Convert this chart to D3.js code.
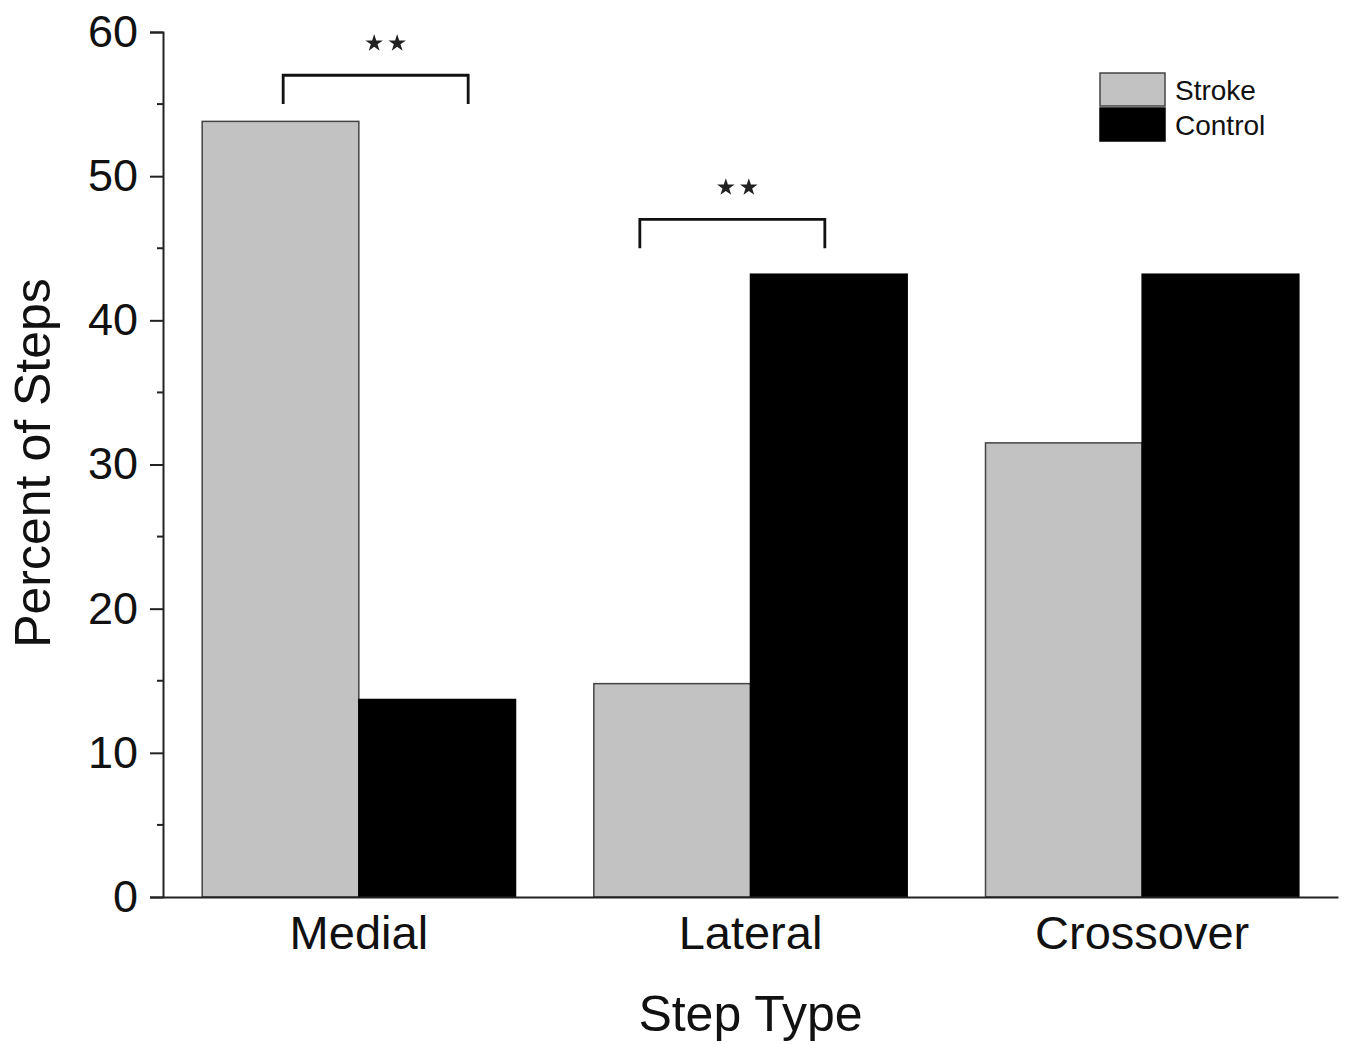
<!DOCTYPE html>
<html>
<head>
<meta charset="utf-8">
<script src="https://cdn.jsdelivr.net/npm/d3@7"></script>
<style>
  body { margin: 0; background: #fff; }
  svg text { font-family: "Liberation Sans", Arial, sans-serif; fill: #111; }
</style>
</head>
<body>
<svg id="chart" width="1345" height="1044"></svg>
<script>
// data
var categories = ["Medial", "Lateral", "Crossover"];
var seriesNames = ["Stroke", "Control"];
var strokeValues = [53.8, 14.8, 31.5];
var controlValues = [13.7, 43.2, 43.2];
var yTicks = [0, 10, 20, 30, 40, 50, 60];
var sigCategories = ["Medial", "Lateral"];
var sigLevels = [57, 47];
var sigLabels = ["**", "**"];

var colors = { Stroke: "#c2c2c2", Control: "#000" };

var svg = d3.select("#chart");
var plotLeft = 163, plotRight = 1338, plotTop = 32, plotBottom = 897;

var x = d3.scaleBand()
  .domain(categories)
  .range([plotLeft, plotRight])
  .paddingInner(0.2)
  .paddingOuter(0.1);

var xs = d3.scaleBand()
  .domain(seriesNames)
  .range([0, x.bandwidth()]);

var y = d3.scaleLinear().domain([0, 60]).range([plotBottom, plotTop]);

var rows = [];
categories.forEach(function (c, i) {
  rows.push({ cat: c, series: "Stroke", value: strokeValues[i] });
  rows.push({ cat: c, series: "Control", value: controlValues[i] });
});

// bars
svg.append("g")
  .selectAll("rect")
  .data(rows)
  .enter().append("rect")
  .attr("x", function (d) { return x(d.cat) + xs(d.series); })
  .attr("y", function (d) { return y(d.value); })
  .attr("width", xs.bandwidth())
  .attr("height", function (d) { return y(0) - y(d.value); })
  .attr("fill", function (d) { return colors[d.series]; })
  .attr("stroke", function (d) { return d.series == "Stroke" ? "#444" : "#000"; })
  .attr("stroke-width", 1.5);

// y axis with minor ticks
var yAxis = svg.append("g")
  .attr("transform", "translate(" + plotLeft + ",0)")
  .call(d3.axisLeft(y).tickValues(yTicks).tickSize(13).tickPadding(12).tickFormat(d3.format("d")));
yAxis.select(".domain").attr("stroke", "#222").attr("stroke-width", 2);
yAxis.selectAll(".tick line").attr("stroke", "#222").attr("stroke-width", 2);
yAxis.selectAll(".tick text").attr("font-size", 45).attr("fill", "#111");

svg.append("g")
  .selectAll("line")
  .data(d3.range(5, 60, 10))
  .enter().append("line")
  .attr("x1", plotLeft - 6).attr("x2", plotLeft)
  .attr("y1", function (d) { return y(d); })
  .attr("y2", function (d) { return y(d); })
  .attr("stroke", "#222").attr("stroke-width", 2);

// x axis
var xAxis = svg.append("g")
  .attr("transform", "translate(0," + plotBottom + ")")
  .call(d3.axisBottom(x).tickSize(0).tickPadding(19).tickSizeOuter(0));
xAxis.select(".domain").attr("stroke", "#222").attr("stroke-width", 2);
xAxis.selectAll(".tick text").attr("font-size", 47).attr("fill", "#111").attr("dy", "0.71em");

// axis titles
svg.append("text")
  .attr("x", x("Lateral") + x.bandwidth() / 2)
  .attr("y", 1031)
  .attr("text-anchor", "middle")
  .attr("font-size", 50)
  .text("Step Type");

svg.append("text")
  .attr("transform", "translate(50," + 463 + ") rotate(-90)")
  .attr("text-anchor", "middle")
  .attr("font-size", 50)
  .text("Percent of Steps");

// significance brackets (offsets from band start; star shift from bracket centre)
var bracketOffsets = { Medial: [81, 266, 10], Lateral: [46, 231, 5] };
sigCategories.forEach(function (c, i) {
  var x0 = x(c) + bracketOffsets[c][0];
  var x1 = x(c) + bracketOffsets[c][1];
  var yt = y(sigLevels[i]);
  var yb = y(sigLevels[i] - 2);
  svg.append("path")
    .attr("d", "M" + x0 + "," + yb + "V" + yt + "H" + x1 + "V" + yb)
    .attr("fill", "none")
    .attr("stroke", "#111")
    .attr("stroke-width", 2.8);
  var cx = (x0 + x1) / 2 + bracketOffsets[c][2];
  sigLabels[i].split("").forEach(function (s, j, arr) {
    svg.append("path")
      .attr("d", d3.symbol().type(d3.symbolStar).size(95)())
      .attr("transform", "translate(" + (cx + (j - (arr.length - 1) / 2) * 23) + "," + (yt - 32) + ")")
      .attr("fill", "#222");
  });
});

// legend
var legend = svg.append("g")
  .attr("transform", "translate(1100,73)")
  .selectAll("g")
  .data(seriesNames)
  .enter().append("g")
  .attr("transform", function (d, i) { return "translate(0," + i * 35 + ")"; });

legend.append("rect")
  .attr("width", 65)
  .attr("height", 33)
  .attr("fill", function (d) { return colors[d]; })
  .attr("stroke", function (d) { return d == "Stroke" ? "#444" : "#000"; })
  .attr("stroke-width", 1.5);

legend.append("text")
  .attr("x", 75)
  .attr("y", 17)
  .attr("dy", "0.35em")
  .attr("font-size", 28)
  .text(function (d) { return d; });
</script>
</body>
</html>
